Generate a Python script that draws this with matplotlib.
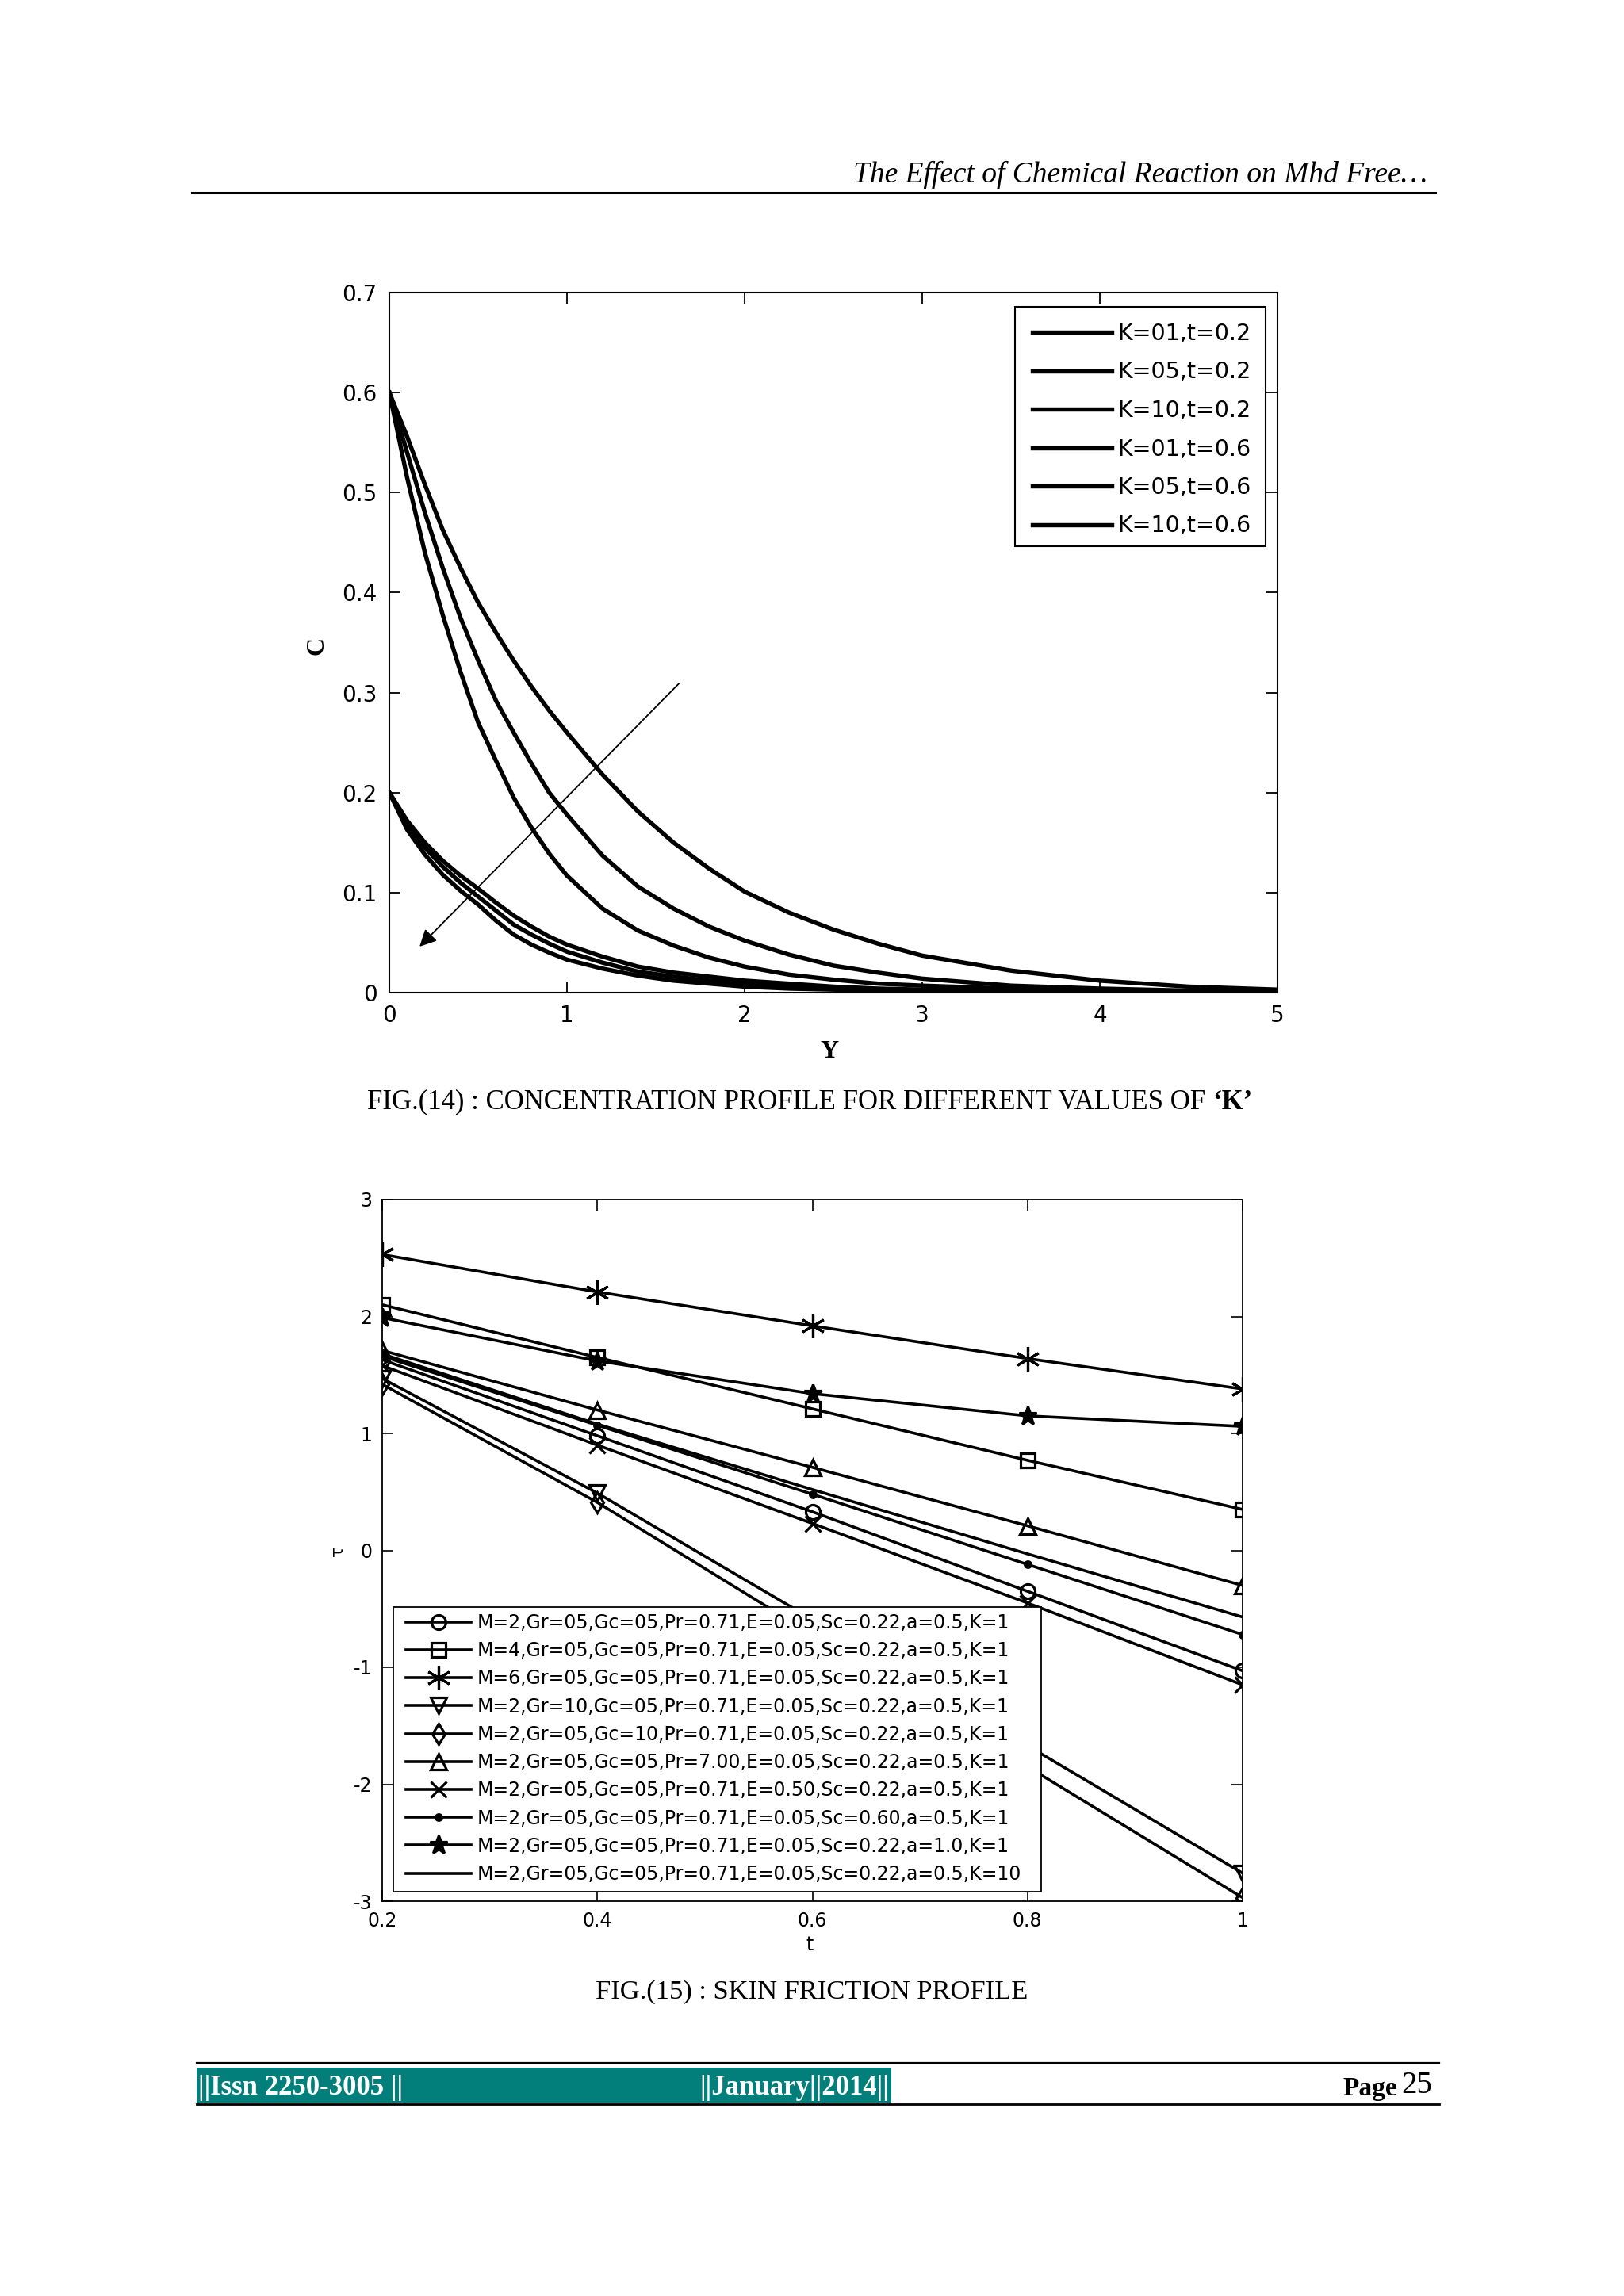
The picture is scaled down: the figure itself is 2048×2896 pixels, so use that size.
import matplotlib
matplotlib.use('Agg')
import matplotlib.pyplot as plt
from matplotlib.lines import Line2D
from matplotlib.patches import Rectangle

# ---------------- Fig. 14 data (concentration profiles) ----------------
Y = [0, 0.1, 0.2, 0.3, 0.4, 0.5, 0.6, 0.7, 0.8, 0.9, 1.0, 1.2, 1.4, 1.6, 1.8, 2.0,
     2.25, 2.5, 2.75, 3.0, 3.5, 4.0, 4.5, 5.0]
C_K01_t02 = [0.200, 0.172, 0.150, 0.132, 0.117, 0.104, 0.090, 0.077, 0.066, 0.056, 0.048, 0.036,
             0.026, 0.020, 0.016, 0.012, 0.009, 0.006, 0.004, 0.003, 0.0015, 0.001, 0.0005, 0.0003]
C_K05_t02 = [0.200, 0.168, 0.145, 0.126, 0.110, 0.096, 0.082, 0.068, 0.058, 0.049, 0.041, 0.030,
             0.021, 0.016, 0.012, 0.009, 0.006, 0.004, 0.003, 0.002, 0.001, 0.0006, 0.0003, 0.0002]
C_K10_t02 = [0.200, 0.163, 0.138, 0.118, 0.102, 0.088, 0.072, 0.058, 0.048, 0.040, 0.033, 0.024,
             0.017, 0.012, 0.009, 0.006, 0.004, 0.003, 0.002, 0.0015, 0.0008, 0.0004, 0.0002, 0.0001]
C_K01_t06 = [0.600, 0.556, 0.508, 0.463, 0.425, 0.390, 0.360, 0.332, 0.306, 0.282, 0.260, 0.218,
             0.181, 0.150, 0.124, 0.101, 0.080, 0.063, 0.049, 0.037, 0.022, 0.012, 0.006, 0.003]
C_K05_t06 = [0.600, 0.540, 0.480, 0.425, 0.375, 0.332, 0.292, 0.260, 0.229, 0.200, 0.178, 0.137,
             0.106, 0.084, 0.066, 0.052, 0.038, 0.027, 0.020, 0.014, 0.007, 0.004, 0.002, 0.001]
C_K10_t06 = [0.600, 0.515, 0.440, 0.378, 0.321, 0.270, 0.232, 0.195, 0.165, 0.139, 0.117, 0.084,
             0.062, 0.047, 0.035, 0.026, 0.018, 0.013, 0.009, 0.007, 0.004, 0.002, 0.001, 0.001]
labels14 = ['K=01,t=0.2', 'K=05,t=0.2', 'K=10,t=0.2', 'K=01,t=0.6', 'K=05,t=0.6', 'K=10,t=0.6']
yticks14 = [0, 0.1, 0.2, 0.3, 0.4, 0.5, 0.6, 0.7]
xticks14 = [0, 1, 2, 3, 4, 5]

# ---------------- Fig. 15 data (skin friction) ----------------
t = [0.2, 0.4, 0.6, 0.8, 1.0]
tau_M2 = [1.63, 0.98, 0.33, -0.35, -1.03]
tau_M4 = [2.10, 1.65, 1.21, 0.77, 0.35]
tau_M6 = [2.53, 2.21, 1.92, 1.64, 1.38]
tau_Gr10 = [1.47, 0.49, -0.59, -1.67, -2.76]
tau_Gc10 = [1.42, 0.41, -0.72, -1.85, -2.97]
tau_Pr7 = [1.71, 1.20, 0.71, 0.21, -0.30]
tau_E05 = [1.58, 0.90, 0.23, -0.45, -1.15]
tau_Sc06 = [1.66, 1.07, 0.48, -0.12, -0.72]
tau_a10 = [1.99, 1.62, 1.34, 1.15, 1.06]
tau_K10 = [1.68, 1.08, 0.52, -0.03, -0.57]
labels15 = [
    'M=2,Gr=05,Gc=05,Pr=0.71,E=0.05,Sc=0.22,a=0.5,K=1',
    'M=4,Gr=05,Gc=05,Pr=0.71,E=0.05,Sc=0.22,a=0.5,K=1',
    'M=6,Gr=05,Gc=05,Pr=0.71,E=0.05,Sc=0.22,a=0.5,K=1',
    'M=2,Gr=10,Gc=05,Pr=0.71,E=0.05,Sc=0.22,a=0.5,K=1',
    'M=2,Gr=05,Gc=10,Pr=0.71,E=0.05,Sc=0.22,a=0.5,K=1',
    'M=2,Gr=05,Gc=05,Pr=7.00,E=0.05,Sc=0.22,a=0.5,K=1',
    'M=2,Gr=05,Gc=05,Pr=0.71,E=0.50,Sc=0.22,a=0.5,K=1',
    'M=2,Gr=05,Gc=05,Pr=0.71,E=0.05,Sc=0.60,a=0.5,K=1',
    'M=2,Gr=05,Gc=05,Pr=0.71,E=0.05,Sc=0.22,a=1.0,K=1',
    'M=2,Gr=05,Gc=05,Pr=0.71,E=0.05,Sc=0.22,a=0.5,K=10',
]
xticks15 = [0.2, 0.4, 0.6, 0.8, 1.0]
xticklabels15 = ['0.2', '0.4', '0.6', '0.8', '1']
yticks15 = [-3, -2, -1, 0, 1, 2, 3]

plt.rcParams['font.family'] = ['DejaVu Sans']

fig = plt.figure(figsize=(20.48, 28.96), dpi=100)
W, H = 2048.0, 2896.0
renderer = fig.canvas.get_renderer()


def fx(px):
    return px / W


def fy(py):
    return 1 - py / H


# ---------------- Header ----------------
fig.text(fx(1800), fy(230), 'The Effect of Chemical Reaction on Mhd Free\u2026',
         ha='right', va='baseline', family='Liberation Serif', style='italic', fontsize=27)
fig.add_artist(Line2D([fx(242), fx(1810)], [fy(243), fy(243)], color='black', lw=2.2))

# ---------------- Top chart ----------------
ax1 = fig.add_axes([fx(491), fy(1252), (1611 - 491) / W, (1252 - 369) / H])
series14 = [C_K01_t02, C_K05_t02, C_K10_t02, C_K01_t06, C_K05_t06, C_K10_t06]
for c, lab in zip(series14, labels14):
    ax1.plot(Y, c, color='black', lw=3.9, label=lab, solid_joinstyle='round')
ax1.set_xlim(0, 5)
ax1.set_ylim(0, 0.7)
ax1.set_xticks(xticks14)
ax1.set_yticks(yticks14)
ax1.set_xticklabels([str(v) for v in xticks14])
ax1.set_yticklabels(['0' if v == 0 else f'{v:.1f}' for v in yticks14])
ax1.tick_params(direction='in', length=10, width=1.3, top=True, right=True,
                labelsize=20, pad=11)
for s in ax1.spines.values():
    s.set_linewidth(1.5)
fig.text(fx(1046), fy(1326), 'Y', ha='center', va='center', family='Liberation Serif',
         fontweight='bold', fontsize=23)
fig.text(fx(400), fy(814), 'C', ha='center', va='center', rotation=90,
         family='Liberation Serif', fontweight='bold', fontsize=23)
# legend box (MATLAB style)
ax1.add_patch(Rectangle(((1280 - 491) / 1120, (1252 - 689) / 883), (1596 - 1280) / 1120,
                        (689 - 387.5) / 883, transform=ax1.transAxes, facecolor='white',
                        edgecolor='black', lw=1.5, zorder=4))
leg1 = ax1.legend(loc='upper left', bbox_to_anchor=((1302 - 491) / 1120, (1252 - 407) / 883),
                  fontsize=20.5, frameon=False, handlelength=3.5, handletextpad=0.25,
                  labelspacing=0.72, borderpad=0, borderaxespad=0)
leg1.set_zorder(5)
for ln in leg1.get_lines():
    ln.set_linewidth(3.9)
ax1.annotate('', xy=(0.17, 0.046), xytext=(1.63, 0.309),
             arrowprops=dict(arrowstyle='-|>', lw=1.3, color='black', mutation_scale=32,
                             shrinkA=0, shrinkB=0))


def bold_tail_caption(xc, yc, main, tail, size):
    t1 = fig.text(0, fy(yc), main, ha='left', va='center', family='Liberation Serif',
                  fontsize=size)
    t2 = fig.text(0, fy(yc), tail, ha='left', va='center', family='Liberation Serif',
                  fontweight='bold', fontsize=size)
    w1 = t1.get_window_extent(renderer).width
    w2 = t2.get_window_extent(renderer).width
    gap = 0.25 * size * 100 / 72
    x0 = xc - (w1 + gap + w2) / 2
    t1.set_x(fx(x0))
    t2.set_x(fx(x0 + w1 + gap))


bold_tail_caption(1021, 1390, 'FIG.(14) : CONCENTRATION PROFILE FOR DIFFERENT VALUES OF',
                  '\u2018K\u2019', 25)

# ---------------- Bottom chart ----------------
ax2 = fig.add_axes([fx(482), fy(2398), 1085 / W, 885 / H])
series15 = [tau_M2, tau_M4, tau_M6, tau_Gr10, tau_Gc10, tau_Pr7, tau_E05, tau_Sc06, tau_a10, tau_K10]
markers = ['o', 's', (6, 2, 0), 'v', 'd', '^', 'x', '.', '*', None]
msizes = [13, 13, 22, 14, 13, 14, 14, 11, 17, 0]
filled = [False, False, True, False, False, False, True, True, True, True]
for vals, lab, m, ms, fl in zip(series15, labels15, markers, msizes, filled):
    kw = dict(color='black', lw=2.6, label=lab)
    if m is not None:
        kw.update(marker=m, markersize=ms, markeredgewidth=2.3, markeredgecolor='black')
        kw['markerfacecolor'] = 'black' if fl else 'none'
    ax2.plot(t, vals, **kw)
ax2.set_xlim(0.2, 1.0)
ax2.set_ylim(-3, 3)
ax2.set_xticks(xticks15)
ax2.set_xticklabels(xticklabels15)
ax2.set_yticks(yticks15)
ax2.set_yticklabels([str(v) for v in yticks15])
ax2.tick_params(direction='in', length=10, width=1.2, top=True, right=True,
                labelsize=17, pad=9)
for s in ax2.spines.values():
    s.set_linewidth(1.3)
fig.text(fx(1021), fy(2453), 't', ha='center', va='center', fontsize=17)
fig.text(fx(426), fy(1956), '\u03c4', ha='center', va='center', rotation=90, fontsize=16)
ax2.add_patch(Rectangle(((495.6 - 482) / 1085, (2398 - 2385.6) / 885), (1312.7 - 495.6) / 1085,
                        (2385.6 - 2026.5) / 885, transform=ax2.transAxes, facecolor='white',
                        edgecolor='black', lw=1.3, zorder=4))
leg2 = ax2.legend(loc='upper left', bbox_to_anchor=((511.5 - 482) / 1085, (2398 - 2035) / 885),
                  fontsize=17, frameon=False, handlelength=3.5, handletextpad=0.3,
                  labelspacing=0.475, borderpad=0, borderaxespad=0)
leg2.set_zorder(5)

fig.text(fx(1024), fy(2513), 'FIG.(15) : SKIN FRICTION PROFILE',
         ha='center', va='center', family='Liberation Serif', fontsize=24.8)

# ---------------- Footer ----------------
fig.add_artist(Line2D([fx(248), fx(1815)], [fy(2602), fy(2602)], color='black', lw=1.6))
fig.add_artist(Rectangle((fx(248), fy(2652)), (1124 - 248) / W, (2652 - 2608) / H,
                         transform=fig.transFigure, facecolor='#027F7A', edgecolor='none'))
fig.add_artist(Line2D([fx(248), fx(1815)], [fy(2654), fy(2654)], color='black', lw=2.0))
fig.text(fx(250), fy(2634), '||Issn 2250-3005 ||', ha='left', va='center', color='white',
         family='Liberation Serif', fontweight='bold', fontsize=25)
fig.text(fx(1121), fy(2634), '||January||2014||', ha='right', va='center', color='white',
         family='Liberation Serif', fontweight='bold', fontsize=25)
fig.text(fx(1762), fy(2634), 'Page', ha='right', va='center', color='black',
         family='Liberation Serif', fontweight='bold', fontsize=24)
fig.text(fx(1767), fy(2631), '25', ha='left', va='center', color='black',
         family='Liberation Serif', fontsize=28)

fig.savefig('out.png', dpi=100, facecolor='white')
